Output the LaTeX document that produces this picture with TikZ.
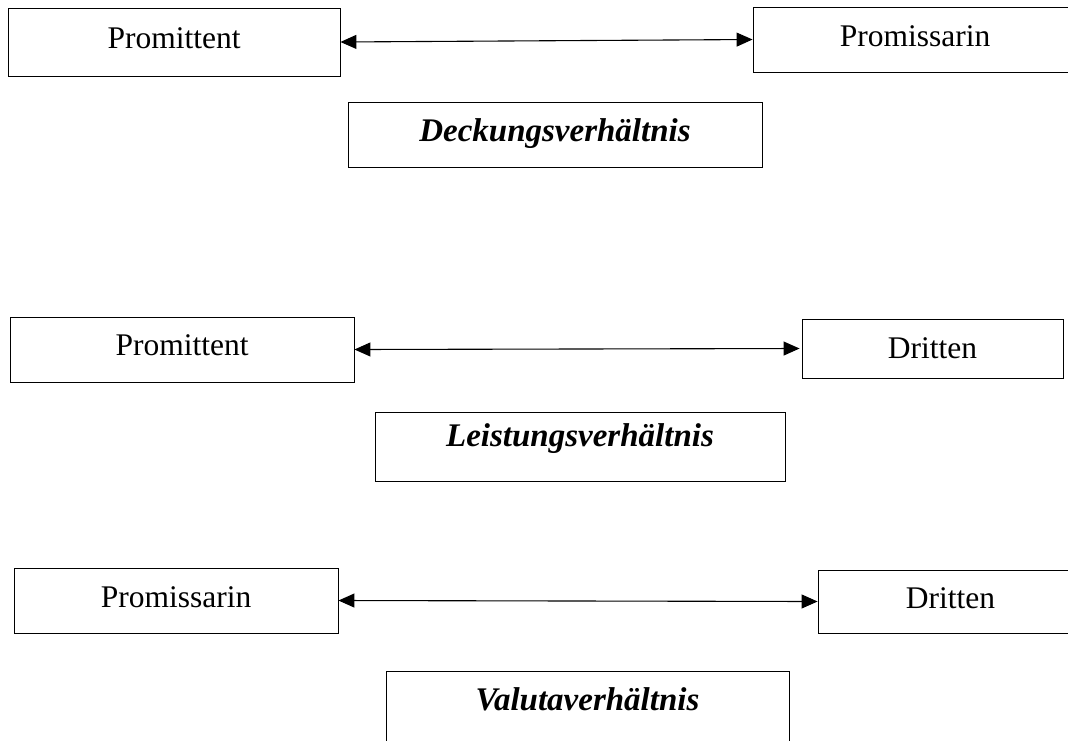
\documentclass[tikz,border=0pt]{standalone}
\usepackage{fontspec}
\setmainfont{Liberation Serif}
\usetikzlibrary{arrows.meta}
\tikzset{
  box/.style={draw, line width=0.9pt, inner sep=0pt, font=\fontsize{31.5}{31.5}\selectfont},
  relbox/.style={box, font=\fontsize{33}{33}\selectfont\bfseries\itshape},
  link/.style={line width=1.1pt, {Triangle[length=16pt,width=14pt]}-{Triangle[length=16pt,width=14pt]}}
}
\begin{document}
\begin{tikzpicture}[x=1pt,y=-1pt]
\useasboundingbox (0,0) rectangle (1068,740);
\clip (0,0) rectangle (1068,740);
% Row 1
\node[box, minimum width=332pt, minimum height=68pt, text height=21pt, text depth=9pt] (a1) at (174,42) {Promittent};
\node[box, minimum width=324pt, minimum height=65pt, text height=21pt, text depth=8pt] (b1) at (915,39.5) {Promissarin};
\node[relbox, minimum width=414pt, minimum height=65pt, text height=23pt, text depth=10pt] (d1) at (555,134.5) {Deckungsverhältnis};
\draw[link] (a1.east) -- (b1.west);
% Row 2
\node[box, minimum width=344pt, minimum height=65pt, text height=22pt, text depth=11pt] (a2) at (182,349.5) {Promittent};
\node[box, minimum width=261pt, minimum height=59pt, text height=21pt, text depth=2pt] (c2) at (932.5,348.5) {Dritten};
\node[relbox, minimum width=410pt, minimum height=69pt, text height=24pt, text depth=25pt] (l2) at (580,446.5) {Leistungsverhältnis};
\draw[link] (a2.east) -- ([xshift=-2pt]c2.west);
% Row 3
\node[box, minimum width=324pt, minimum height=65pt, text height=22pt, text depth=9pt] (b3) at (176,600.5) {Promissarin};
\node[box, minimum width=265pt, minimum height=63pt, text height=21pt, text depth=8pt] (c3) at (950.5,601.5) {Dritten};
\node[relbox, minimum width=403pt, minimum height=75pt, text height=20pt, text depth=17pt] (v3) at (587.5,708.5) {Valutaverhältnis};
\draw[link] (b3.east) -- (c3.west);
\end{tikzpicture}
\end{document}
